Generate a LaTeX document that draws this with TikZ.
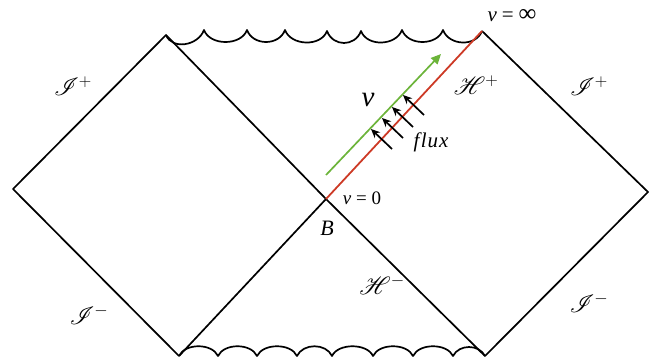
\documentclass[tikz,border=0pt]{standalone}
\usepackage{mathrsfs}
\usepackage{fontspec}
\newfontfamily\labfont{Liberation Serif}
\usetikzlibrary{arrows.meta}
\definecolor{hred}{RGB}{205,58,38}
\definecolor{vgreen}{RGB}{108,180,58}
\tikzset{
  edge/.style={line width=1.7pt, black, line join=round},
  horizon/.style={line width=1.8pt, hred},
  vline/.style={line width=1.7pt, vgreen, -{Triangle[length=10pt,width=9pt]}},
  fluxarrow/.style={line width=1.7pt, black, -{Stealth[length=9pt,width=8pt]}},
  lab/.style={inner sep=0pt, font=\fontsize{23}{27}\selectfont},
  tlab/.style={inner sep=0pt},
}
\begin{document}
\begin{tikzpicture}[x=1pt,y=-1pt]
\useasboundingbox (0,0) rectangle (660,360);
% corners
\coordinate (L) at (13,189);
\coordinate (TL) at (166,35);
\coordinate (TR) at (482,31);
\coordinate (R) at (648,192);
\coordinate (BR) at (485,356);
\coordinate (BL) at (179,356);
\coordinate (B) at (326,199);
% diagram edges
\draw[edge] (BL) -- (L) -- (TL) -- (B) -- (BR) -- (R) -- (TR);
\draw[edge] (BL) -- (B);
% top singularity
\coordinate (t1) at (204,30);
\coordinate (t2) at (247,30);
\coordinate (t3) at (285,30);
\coordinate (t4) at (327,31);
\coordinate (t5) at (361,31);
\coordinate (t6) at (402,30);
\coordinate (t7) at (443,30);
\draw[edge] (TL) .. controls +(6,15) and +(-6,16) .. (t1)
  .. controls +(6,16) and +(-6,16) .. (t2)
  .. controls +(6,16) and +(-6,16) .. (t3)
  .. controls +(6,16) and +(-6,16) .. (t4)
  .. controls +(6,16) and +(-6,16) .. (t5)
  .. controls +(6,16) and +(-6,16) .. (t6)
  .. controls +(6,16) and +(-6,16) .. (t7)
  .. controls +(6,16) and +(-6,16) .. (TR);
% bottom singularity
\coordinate (b1) at (218,356);
\coordinate (b2) at (257,356);
\coordinate (b3) at (297,356);
\coordinate (b4) at (332,356);
\coordinate (b5) at (373,356);
\coordinate (b6) at (413,356);
\coordinate (b7) at (453,356);
\draw[edge] (BL) .. controls +(6,-13) and +(-6,-13) .. (b1)
  .. controls +(6,-13) and +(-6,-13) .. (b2)
  .. controls +(6,-13) and +(-6,-13) .. (b3)
  .. controls +(6,-13) and +(-6,-13) .. (b4)
  .. controls +(6,-13) and +(-6,-13) .. (b5)
  .. controls +(6,-13) and +(-6,-13) .. (b6)
  .. controls +(6,-13) and +(-6,-13) .. (b7)
  .. controls +(6,-12) and +(-6,-12) .. (BR);
% horizon
\draw[horizon] (B) -- (TR);
% v direction
\coordinate (G0) at (326,175);
\coordinate (G1) at (441,54);
\draw[vline] (G0) -- (G1);
% flux arrows
\coordinate (f1a) at (392,149); \coordinate (f1b) at (371,129);
\coordinate (f2a) at (403,138); \coordinate (f2b) at (382,118);
\coordinate (f3a) at (413,127); \coordinate (f3b) at (392,107);
\coordinate (f4a) at (424,115); \coordinate (f4b) at (403,95);
\draw[fluxarrow] (f1a) -- (f1b);
\draw[fluxarrow] (f2a) -- (f2b);
\draw[fluxarrow] (f3a) -- (f3b);
\draw[fluxarrow] (f4a) -- (f4b);
% labels
\node[lab] (scriL) at (73,86) {$\mathscr{I}^+$};
\node[lab] (scriR) at (589,86) {$\mathscr{I}^+$};
\node[lab] (hplus) at (476,85) {$\mathscr{H}^+$};
\node[lab] (scrimL) at (89,315) {$\mathscr{I}^-$};
\node[lab] (scrimR) at (589,303) {$\mathscr{I}^-$};
\node[lab] (hminus) at (382,285) {$\mathscr{H}^-$};
\node[tlab, font=\labfont\fontsize{21}{24}\selectfont] (vinf) at (512,16) {\textit{v}\hspace{5pt}=\hspace{5pt}{\fontsize{25}{28}\selectfont ∞}};
\node[tlab, font=\labfont\fontsize{19}{22}\selectfont] (vzero) at (362,198) {\textit{v} = 0};
\node[tlab, font=\labfont\fontsize{22}{26}\selectfont\itshape] (Blab) at (327,228) {B};
\node[tlab, font=\labfont\fontsize{21}{24}\selectfont\itshape] (flux) at (431,142) {f\kern1.5pt l\kern1pt u\kern1pt x};
\node[tlab, font=\labfont\fontsize{29}{32}\selectfont\itshape] (vbig) at (368,100) {v};
\end{tikzpicture}
\end{document}
